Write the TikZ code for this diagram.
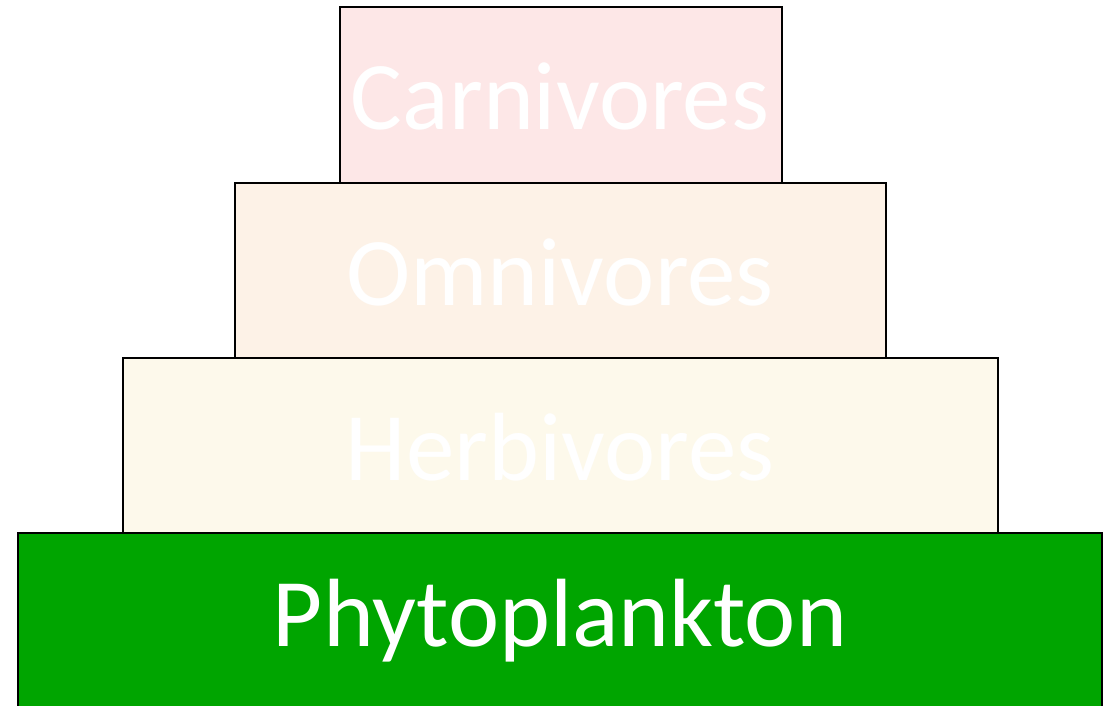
\documentclass[tikz,border=0pt]{standalone}
\usepackage{fontspec}
\setmainfont{Carlito}
\definecolor{carnfill}{HTML}{FDE7E7}
\definecolor{omnifill}{HTML}{FDF2E7}
\definecolor{herbfill}{HTML}{FDF9EB}
\definecolor{phytofill}{HTML}{00A500}
\tikzset{
  tier/.style={draw=black, line width=1.6pt, inner sep=0pt, text=white,
    font=\fontsize{97}{97}\selectfont},
}
\begin{document}
\begin{tikzpicture}[x=1pt, y=-1pt]
  \useasboundingbox (0,0) rectangle (1116,705);
  \clip (0,0) rectangle (1116,705);
  % trophic levels, bottom to top
  \draw[tier, fill=phytofill] (18,533) rectangle (1102,710);
  \draw[tier, fill=herbfill] (123,358) rectangle (998,533);
  \draw[tier, fill=omnifill] (235,183) rectangle (886,358);
  \draw[tier, fill=carnfill] (340,7) rectangle (782,183);
  % labels
  \node[tier, draw=none] (phyto) at (560,621) {Phytoplankton};
  \node[tier, draw=none] (herb) at (560,447) {Herbivores};
  \node[tier, draw=none] (omni) at (560,272) {Omnivores};
  \node[tier, draw=none] (carn) at (560,96) {Carnivores};
\end{tikzpicture}
\end{document}
